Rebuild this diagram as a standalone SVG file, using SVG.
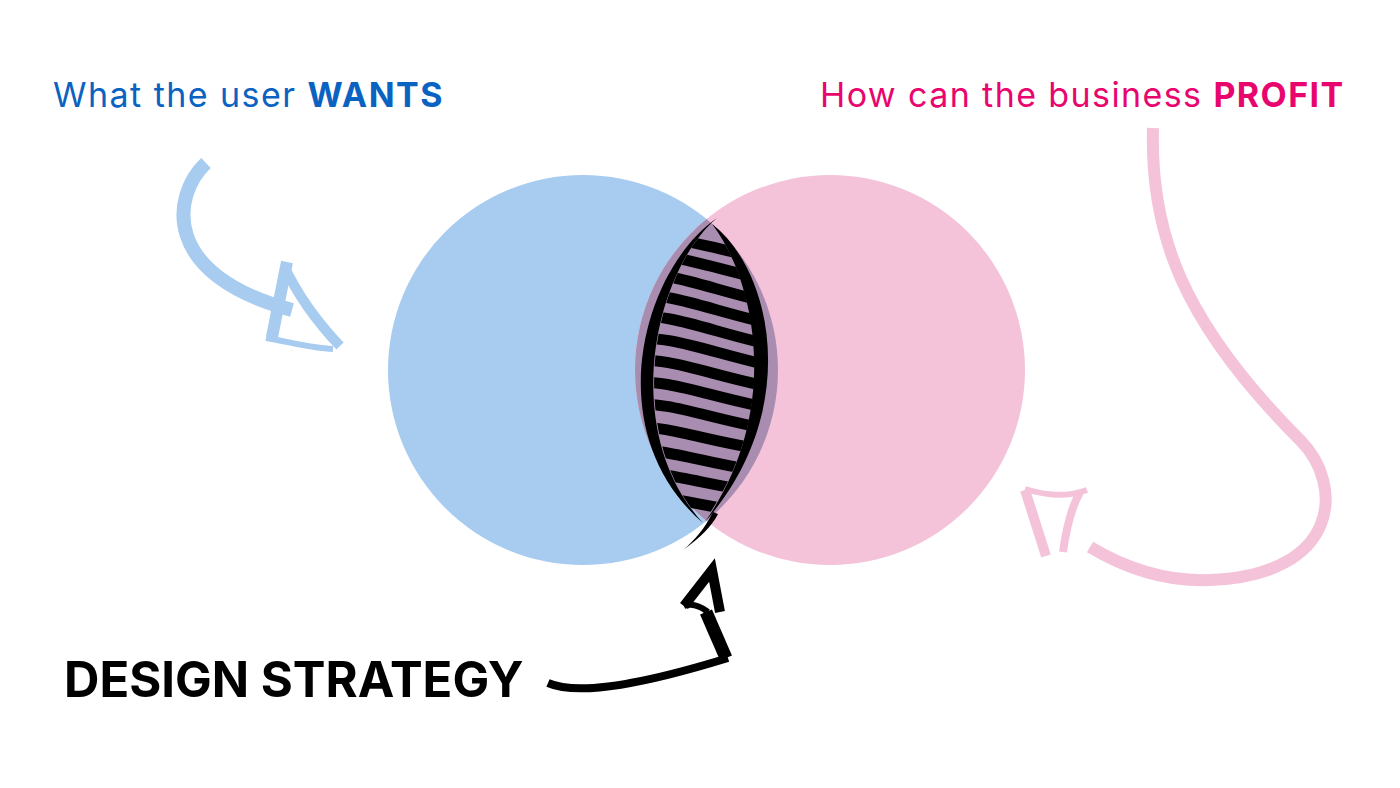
<svg xmlns="http://www.w3.org/2000/svg" width="1400" height="788" viewBox="0 0 1400 788">
<style>
.t{font-family:Inter,"Noto Sans","Liberation Sans",sans-serif;}
.blue{fill:#0B63C1}
.pink{fill:#E8066E}
.bs{fill:none;stroke:#A8CCF0;stroke-linecap:butt;stroke-linejoin:miter}
.ps{fill:none;stroke:#F4C3DA;stroke-linecap:butt;stroke-linejoin:miter}
.ks{fill:none;stroke:#000;stroke-linecap:butt;stroke-linejoin:miter}
.stripe{fill:none;stroke:#000;stroke-width:11}
</style>
<defs>
<clipPath id="lensIn">
<path d="M717,218 C655,270 620,430 703,523 C785,410 755,280 712,224 Z"/>
</clipPath>
</defs>
<rect width="1400" height="788" fill="#fff"/>

<g id="user-circle">
<circle cx="583" cy="370" r="195" fill="#A8CCF0"/>
</g>
<g id="business-circle">
<circle cx="830" cy="370" r="195" fill="#F4C3DA"/>
</g>
<g id="overlap">
<path d="M706.5,219.1 A195,195 0 0 1 706.5,520.9 A195,195 0 0 1 706.5,219.1 Z" fill="#A98DB0"/>
<g clip-path="url(#lensIn)">
<path class="stripe" d="M630,236 C670,234 710,248 780,262"/>
<path class="stripe" d="M630,255 C670,251 710,268 780,283"/>
<path class="stripe" d="M630,275 C670,270 710,290 780,305"/>
<path class="stripe" d="M630,296 C670,291 710,311 780,326"/>
<path class="stripe" d="M630,317 C670,312 710,332 780,347"/>
<path class="stripe" d="M630,339 C670,334 710,353 780,368"/>
<path class="stripe" d="M630,361 C670,356 710,376 780,389"/>
<path class="stripe" d="M630,383 C670,378 710,398 780,410"/>
<path class="stripe" d="M630,405 C670,400 710,420 780,431"/>
<path class="stripe" d="M630,427 C670,425 710,443 780,452"/>
<path class="stripe" d="M630,450 C670,448 710,466 780,474"/>
<path class="stripe" d="M630,473 C670,471 710,487 780,495"/>
<path class="stripe" d="M630,496 C670,494 710,510 780,516"/>
</g>
<path d="M717,218 C642,270 598,432 703,523 C618,430 655,270 717,218 Z" fill="#000"/>
<path d="M712,224 C772,270 803,410 705,522 C783,410 755,280 712,224 Z" fill="#000"/>
<path d="M713,512 C705,528 695,540 683,550 C700,538 712,526 718,514 Z" fill="#000"/>
</g>

<g id="labels">
<text class="t blue" x="53" y="107" font-size="34" letter-spacing="1.45">What the user <tspan font-weight="700">WANTS</tspan></text>
<text class="t pink" x="820" y="107" font-size="34" letter-spacing="1.4">How can the business <tspan font-weight="700">PROFIT</tspan></text>
<text class="t" x="64" y="697" font-size="49" font-weight="700" fill="#000">DESIGN STRATEGY</text>
</g>

<g id="connectors">
<g id="user-arrow">
<path class="bs" stroke-width="14" d="M206,163 C172,195 160,275 292,310"/>
<path class="bs" stroke-width="12" d="M287,262 L272,337"/>
<path class="bs" stroke-width="10" d="M284,266 C300,300 320,325 340,346"/>
<path class="bs" stroke-width="6" d="M266,338 C290,342 310,348 333,349"/>
</g>
<g id="business-arrow">
<path class="ps" stroke-width="12" d="M1153,128 C1150,230 1180,320 1300,440 C1345,485 1340,575 1210,580 C1160,582 1120,565 1090,547"/>
<path class="ps" stroke-width="10" d="M1025,490 L1046,556"/>
<path class="ps" stroke-width="8" d="M1080,492 C1070,510 1066,530 1063,552"/>
<path class="ps" stroke-width="6" d="M1025,489 C1045,495 1065,498 1087,490"/>
</g>
<g id="strategy-arrow">
<path class="ks" stroke-width="8" d="M548,683 C580,697 650,682 728,658"/>
<path class="ks" stroke-width="13" d="M726,658 L706,612"/>
<path class="ks" stroke-width="10" d="M684,606 L712,570 L720,612"/>
<path class="ks" stroke-width="6" d="M684,606 C692,603 700,606 708,612"/>
</g>
</g>
</svg>
